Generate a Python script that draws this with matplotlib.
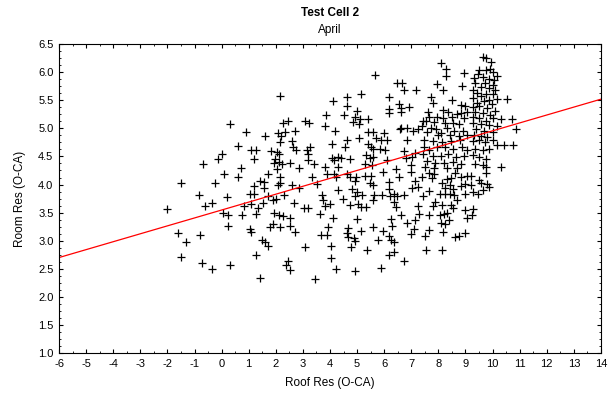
import numpy as np
import matplotlib
matplotlib.use("Agg")
import matplotlib.pyplot as plt
from matplotlib.ticker import MultipleLocator, FormatStrFormatter

plt.rcParams['font.family'] = ['Liberation Sans', 'DejaVu Sans']
plt.rcParams['axes.unicode_minus'] = False

# Roof residuals (O-CA) and matching room residuals (O-CA), April
roof_res = [
    0.32, 0.90, 0.62, 0.00, -0.13, -0.67, 0.72,
    0.10, 0.62, -1.49, -0.26, -0.84, 0.20, 1.06, -0.36, -0.60, 0.84, -2.02, 0.05, 0.25, 0.74, 0.25, 1.06,
    -1.62, -0.81, -1.30, -1.49, -0.73, -0.36, 0.31,
    2.17, 4.11, 3.86, 2.27, 2.45, 3.07, 3.22, 3.83, 2.72, 4.19, 2.34, 2.07, 1.60, 2.19, 2.17, 2.61, 4.08,
    2.64, 2.74, 3.25, 3.16, 1.09, 1.28, 1.83, 2.04, 2.11, 3.20, 1.21, 1.97, 1.92, 2.12, 2.24, 2.54, 3.20,
    3.40, 4.08, 4.14, 4.29, 3.83, 2.86, 2.04, 4.31,
    1.70, 2.17, 3.32, 3.89, 4.14, 4.24, 1.40, 1.58, 1.21, 1.55, 2.17, 2.08, 2.58, 2.85, 3.53, 4.31, 1.21,
    1.70, 2.29, 3.71, 3.75, 1.90, 2.02, 1.10, 1.53, 1.33, 2.66, 3.99, 3.80, 1.28, 1.95, 2.12, 2.27, 2.54,
    3.03, 3.18, 3.62, 4.11, 1.77, 1.90, 2.14, 2.51, 1.09, 2.71, 3.65, 3.89, 3.92, 1.48, 1.60, 1.73, 3.06,
    4.02, 1.28, 4.02, 2.44, 2.37, 2.51, 4.24, 1.43, 3.46,
    5.67, 6.48, 6.65, 6.73, 7.17, 5.13, 4.64, 6.16, 6.53, 4.64, 6.19, 6.61, 6.93, 5.00, 4.51, 6.16, 6.63,
    4.91, 5.10, 4.85, 5.08, 5.42, 6.61, 6.58, 6.85, 7.05, 7.25, 5.42, 5.57, 6.01, 5.08, 5.69, 5.89, 6.09,
    6.85, 4.61, 4.56, 5.40, 5.52, 5.59, 5.84, 6.04, 5.32, 5.49, 5.59, 4.75, 6.11, 6.73, 7.12, 6.80, 7.02,
    6.98, 5.28, 5.55, 4.39, 6.43,
    4.64, 4.75, 4.95, 5.28, 5.52, 5.96, 6.53, 6.98, 4.93, 5.49, 5.57, 6.19, 7.12, 7.25, 4.80, 6.19, 7.02,
    4.98, 5.18, 5.62, 5.91, 6.21, 6.38, 6.46, 6.73, 4.93, 4.49, 5.57, 5.05, 4.75, 5.13, 5.32, 6.36, 6.43,
    7.25, 6.63, 7.30, 5.00, 6.26, 7.15, 6.85, 6.28, 5.57, 7.10, 4.68, 4.61, 5.15, 5.96, 7.00, 4.68, 4.88,
    6.16, 5.77, 4.93, 6.24, 6.36, 4.78, 5.37, 6.19, 6.36, 6.73, 4.93, 5.87,
    8.08, 8.27, 8.28, 8.95, 7.96, 8.16, 8.87, 7.71, 7.79, 8.50, 8.83, 9.00, 7.61, 8.16, 8.36, 8.68, 8.83,
    9.07, 7.64, 7.94, 8.18, 8.50, 8.95, 7.42, 7.54, 7.84, 8.23, 8.55, 8.75, 7.39, 7.71, 7.91, 8.33, 8.58,
    8.90, 7.57, 7.99, 8.11, 8.43, 8.75, 9.07, 7.47, 7.79, 8.13, 8.45, 8.80, 7.47, 7.66, 7.96, 8.23, 8.53,
    8.87, 9.07, 7.42, 7.79, 8.11, 8.36, 8.65, 8.95, 7.59, 7.89, 8.21, 8.53, 8.85, 7.49, 7.84, 8.33, 8.70,
    7.39, 7.64, 7.84, 7.76, 8.31, 8.48, 8.63, 8.85, 9.07, 8.13, 8.43, 8.83, 8.97, 8.26, 8.55, 7.66, 7.42,
    8.06, 8.23, 8.43, 8.58, 8.97, 8.70, 7.89, 7.81, 8.13, 8.48, 8.55, 9.00, 7.64, 8.06, 8.21, 8.33, 9.05,
    8.11, 8.23, 8.40, 8.18, 7.66, 7.51, 8.60, 8.77, 8.97, 7.54, 8.13,
    9.64, 9.74, 9.93, 9.51, 9.74, 9.90, 10.00, 9.46, 10.18, 9.31, 9.64, 9.88, 10.05, 9.34, 9.71, 10.00,
    9.56, 9.88, 9.27, 10.10, 9.44, 9.76, 10.00, 9.59, 9.29, 10.55, 9.86, 10.15, 9.42, 9.69, 9.98, 9.27,
    9.51, 9.78, 10.08, 9.36, 9.64, 9.90, 9.29, 9.49, 9.74, 10.00, 10.30, 10.70, 9.27, 9.56, 9.88, 10.15,
    10.87, 9.39, 9.69, 10.00, 9.31, 9.56, 9.81, 9.27, 9.49, 9.71, 10.00, 10.15, 10.42, 10.77, 9.36, 9.64,
    9.88, 9.27, 9.49, 9.76, 9.34, 9.64, 9.74, 10.32,
    9.76, 9.21, 9.49, 9.59, 9.78, 9.86, 9.21, 9.29, 9.46, 9.66, 9.27, 9.24,
]
room_res = [
    5.07, 4.94, 4.68, 4.55, 4.45, 4.36, 4.30,
    4.19, 4.13, 4.02, 4.02, 3.82, 3.77, 3.84, 3.68, 3.62, 3.62, 3.56, 3.49, 3.46, 3.46, 3.26, 3.20,
    3.14, 3.10, 2.98, 2.71, 2.61, 2.49, 2.57,
    5.58, 5.49, 5.23, 5.09, 5.14, 5.13, 5.10, 5.05, 4.96, 4.95, 4.93, 4.91, 4.86, 4.87, 4.76, 4.77, 4.72,
    4.66, 4.62, 4.66, 4.61, 4.62, 4.62, 4.59, 4.58, 4.54, 4.54, 4.45, 4.45, 4.39, 4.41, 4.36, 4.38, 4.43,
    4.37, 4.48, 4.43, 4.49, 4.32, 4.30, 4.27, 4.32,
    4.18, 4.14, 4.14, 4.18, 4.18, 4.13, 4.06, 4.05, 3.98, 3.94, 4.02, 3.99, 4.00, 3.94, 4.01, 3.91, 3.84,
    3.80, 3.82, 3.82, 3.73, 3.73, 3.74, 3.66, 3.67, 3.58, 3.67, 3.66, 3.61, 3.48, 3.49, 3.46, 3.44, 3.41,
    3.58, 3.58, 3.48, 3.41, 3.25, 3.29, 3.25, 3.27, 3.16, 3.15, 3.11, 3.11, 3.25, 3.01, 2.98, 2.91, 2.89,
    2.91, 2.75, 2.69, 2.64, 2.56, 2.48, 2.49, 2.33, 2.32,
    5.95, 5.80, 5.80, 5.68, 5.68, 5.62, 5.55, 5.55, 5.43, 5.39, 5.35, 5.37, 5.38, 5.31, 5.24, 5.27, 5.29,
    5.21, 5.16, 5.12, 5.08, 5.16, 5.01, 4.98, 5.01, 4.95, 4.99, 4.93, 4.93, 4.92, 4.82, 4.83, 4.79, 4.79,
    4.79, 4.79, 4.66, 4.73, 4.67, 4.63, 4.64, 4.62, 4.52, 4.48, 4.49, 4.46, 4.44, 4.59, 4.57, 4.48, 4.49,
    4.34, 4.36, 4.34, 4.48, 4.28,
    4.19, 4.13, 4.13, 4.16, 4.16, 4.22, 4.14, 4.22, 4.07, 4.02, 4.00, 4.04, 4.07, 3.96, 3.92, 3.92, 3.94,
    3.86, 3.81, 3.82, 3.81, 3.80, 3.83, 3.80, 3.82, 3.79, 3.75, 3.73, 3.66, 3.63, 3.60, 3.60, 3.69, 3.60,
    3.61, 3.45, 3.48, 3.39, 3.39, 3.36, 3.31, 3.27, 3.25, 3.20, 3.23, 3.14, 3.17, 3.18, 3.12, 3.06, 3.05,
    3.08, 3.01, 2.99, 3.01, 2.98, 2.89, 2.83, 2.75, 2.79, 2.64, 2.46, 2.51,
    6.17, 6.05, 5.93, 5.99, 5.79, 5.68, 5.75, 5.56, 5.46, 5.51, 5.42, 5.39, 5.30, 5.32, 5.29, 5.26, 5.27,
    5.29, 5.20, 5.20, 5.19, 5.20, 5.18, 5.14, 5.14, 5.12, 5.10, 5.10, 5.07, 5.04, 5.01, 4.99, 5.00, 4.96,
    4.96, 4.94, 4.89, 4.91, 4.88, 4.86, 4.88, 4.80, 4.77, 4.76, 4.77, 4.80, 4.67, 4.61, 4.67, 4.66, 4.63,
    4.67, 4.61, 4.55, 4.51, 4.50, 4.54, 4.49, 4.51, 4.42, 4.39, 4.38, 4.41, 4.37, 4.31, 4.30, 4.30, 4.29,
    4.14, 4.20, 4.19, 4.11, 4.10, 4.11, 4.20, 4.13, 4.16, 4.02, 3.99, 3.98, 4.01, 3.93, 3.92, 3.88, 3.80,
    3.83, 3.83, 3.83, 3.81, 3.84, 3.73, 3.69, 3.62, 3.64, 3.63, 3.58, 3.54, 3.46, 3.45, 3.48, 3.50, 3.41,
    3.31, 3.29, 3.36, 3.16, 3.19, 3.09, 3.06, 3.08, 3.14, 2.84, 2.84,
    6.27, 6.26, 6.19, 6.04, 6.04, 6.06, 6.00, 5.96, 5.93, 5.89, 5.92, 5.88, 5.86, 5.80, 5.80, 5.77,
    5.74, 5.71, 5.69, 5.68, 5.63, 5.62, 5.61, 5.57, 5.54, 5.53, 5.51, 5.52, 5.46, 5.48, 5.44, 5.38,
    5.39, 5.37, 5.31, 5.29, 5.27, 5.23, 5.20, 5.18, 5.14, 5.19, 5.17, 5.16, 5.10, 5.07, 5.06, 5.05,
    4.99, 4.99, 4.96, 4.94, 4.89, 4.87, 4.84, 4.77, 4.80, 4.76, 4.79, 4.71, 4.70, 4.70, 4.63, 4.61,
    4.63, 4.52, 4.49, 4.46, 4.37, 4.35, 4.31, 4.31,
    4.21, 4.16, 4.08, 4.02, 4.01, 3.96, 3.99, 3.87, 3.83, 3.91, 3.56, 3.45,
]

# Least-squares fit: room = intercept + slope * roof
fit_intercept = 3.546
fit_slope = 0.141

x_min, x_max = -6, 14
y_min, y_max = 1.0, 6.5

fig = plt.figure(figsize=(6.16, 3.94), dpi=100)
ax = fig.add_axes([0.0958, 0.104, 0.8798, 0.784])

ax.plot(roof_res, room_res, linestyle='none', marker='+', color='black',
        markersize=5.5, markeredgewidth=0.9)

fx = np.array([x_min, x_max], dtype=float)
ax.plot(fx, fit_intercept + fit_slope * fx, color='#ff0000', linewidth=0.9)

ax.set_xlim(x_min, x_max)
ax.set_ylim(y_min, y_max)
ax.xaxis.set_major_locator(MultipleLocator(1))
ax.xaxis.set_minor_locator(MultipleLocator(0.5))
ax.yaxis.set_major_locator(MultipleLocator(0.5))
ax.yaxis.set_minor_locator(MultipleLocator(0.125))
ax.yaxis.set_major_formatter(FormatStrFormatter('%.1f'))
ax.tick_params(which='both', direction='in', top=True, right=True,
               labelsize=8, color='black')
ax.tick_params(which='major', length=3, width=0.8, pad=4)
ax.tick_params(which='minor', length=1.5, width=0.6)
for s in ax.spines.values():
    s.set_linewidth(0.8)
    s.set_color('black')

ax.set_xlabel('Roof Res (O-CA)', fontsize=8.5, labelpad=6)
ax.set_ylabel('Room Res (O-CA)', fontsize=8.5, labelpad=9)

fig.text(0.5 * (0.0958 + 0.9756), 1 - 13 / 394, 'Test Cell 2', ha='center', va='center',
         fontsize=8.5, fontweight='bold')
fig.text(0.5 * (0.0958 + 0.9756), 1 - 30 / 394, 'April', ha='center', va='center',
         fontsize=8.5)

fig.savefig('out.png', dpi=100)
